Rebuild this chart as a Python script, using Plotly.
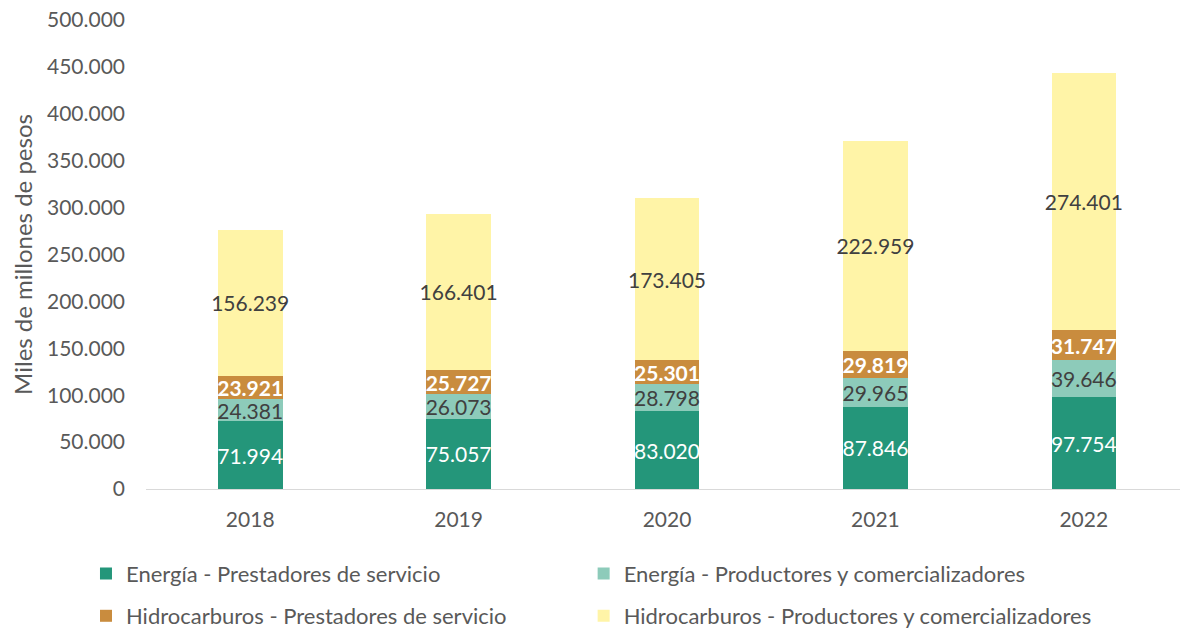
import plotly.graph_objects as go

years = ["2018", "2019", "2020", "2021", "2022"]
energia_prestadores = [71994, 75057, 83020, 87846, 97754]
energia_productores = [24381, 26073, 28798, 29965, 39646]
hidro_prestadores = [23921, 25727, 25301, 29819, 31747]
hidro_productores = [156239, 166401, 173405, 222959, 274401]

series = [
    ("Energía - Prestadores de servicio", energia_prestadores, "#24967A", "white", "normal", "legend"),
    ("Energía - Productores y comercializadores", energia_productores, "#8DCBBA", "#404040", "normal", "legend2"),
    ("Hidrocarburos - Prestadores de servicio", hidro_prestadores, "#C98C3E", "white", "bold", "legend3"),
    ("Hidrocarburos - Productores y comercializadores", hidro_productores, "#FFF4A7", "#404040", "normal", "legend4"),
]

FONT = "Lato, 'Open Sans', sans-serif"
GRAY = "#595959"

fig = go.Figure()
for name, vals, color, tcolor, weight, leg in series:
    fig.add_trace(go.Bar(
        x=years, y=vals, name=name,
        marker=dict(color=color, line=dict(width=0)),
        texttemplate="%{y:,.0f}",
        textposition="inside",
        insidetextanchor="middle",
        constraintext="none",
        textangle=0,
        textfont=dict(color=tcolor, size=21, family=FONT, weight=weight),
        legend=leg,
    ))

legend_common = dict(
    orientation="h", xanchor="left", yanchor="top",
    font=dict(size=22, color=GRAY, family=FONT),
    bgcolor="rgba(0,0,0,0)",
)

fig.update_layout(
    barmode="stack",
    bargap=0.69,
    width=1180, height=621,
    separators=",.",
    plot_bgcolor="white", paper_bgcolor="white",
    font=dict(family=FONT, size=21, color=GRAY),
    margin=dict(l=138, r=0, t=12, b=140, autoexpand=False),
    showlegend=True,
    legend=dict(x=-0.0576, y=-0.136, **legend_common),
    legend2=dict(x=0.420, y=-0.136, **legend_common),
    legend3=dict(x=-0.0576, y=-0.226, **legend_common),
    legend4=dict(x=0.420, y=-0.226, **legend_common),
    xaxis=dict(
        showgrid=False, showline=True, linecolor="#D9D9D9", linewidth=1,
        ticks="", tickfont=dict(size=21, color=GRAY), ticklabelstandoff=12,
    ),
    yaxis=dict(
        range=[0, 500000], dtick=50000, tickformat=",.0f",
        showgrid=False, zeroline=False, showline=False,
        ticks="", tickfont=dict(size=21, color=GRAY), ticklabelstandoff=20,
        ticklabeloverflow="allow",
        title=dict(text="Miles de millones de pesos", font=dict(size=24, color=GRAY), standoff=10),
    ),
)

fig.write_html("out.html")
